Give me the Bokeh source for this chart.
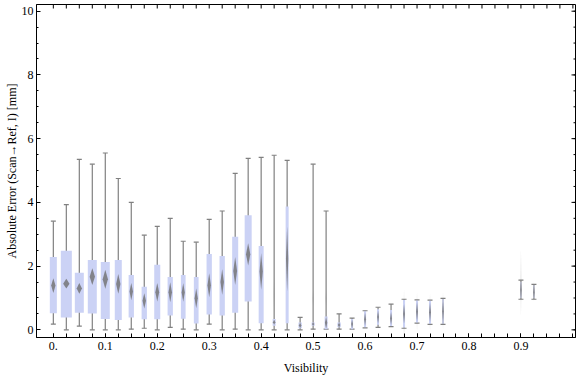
import math
from bokeh.plotting import figure
from bokeh.models import Range1d, FixedTicker
from bokeh.embed import file_html
from bokeh.resources import INLINE

# ---- data ----
vis = [0.0, 0.025, 0.05, 0.075, 0.1, 0.125, 0.15, 0.175, 0.2, 0.225, 0.25, 0.275,
       0.3, 0.325, 0.35, 0.375, 0.4, 0.425, 0.45, 0.475, 0.5, 0.525, 0.55, 0.575,
       0.6, 0.625, 0.65, 0.675, 0.7, 0.725, 0.75, 0.9, 0.925]
whisker_lo = [0.18, 0.00, 0.12, 0.00, 0.00, 0.00, 0.02, 0.05, 0.00, 0.08, 0.02, 0.00,
              0.18, 0.00, 0.02, 0.00, 0.00, 0.00, 0.00, 0.00, 0.02, 0.02, 0.02, 0.02,
              0.06, 0.08, 0.10, 0.05, 0.21, 0.17, 0.17, 0.96, 0.96]
q1 = [0.52, 0.39, 0.54, 0.51, 0.34, 0.31, 0.39, 0.33, 0.33, 0.45, 0.35, 0.20,
      0.48, 0.45, 0.54, 0.89, 0.21, 0.13, 0.21, 0.05, 0.13, 0.02, 0.08, 0.02,
      0.08, 0.16, 0.12, 0.07, 0.23, 0.19, 0.19, 1.00, 1.00]
q3 = [2.29, 2.48, 1.79, 2.19, 2.13, 2.19, 1.72, 1.35, 2.04, 1.66, 1.72, 1.66,
      2.38, 2.32, 2.92, 3.60, 2.63, 0.34, 3.87, 0.23, 0.23, 0.42, 0.23, 0.34,
      0.58, 0.65, 0.62, 0.94, 0.92, 0.91, 0.97, 1.50, 1.40]
whisker_hi = [3.41, 3.93, 5.35, 5.20, 5.55, 4.75, 4.00, 2.97, 3.25, 3.50, 2.78, 2.75,
              3.47, 3.73, 4.91, 5.38, 5.41, 5.48, 5.32, 0.39, 5.20, 3.73, 0.50, 0.37,
              0.60, 0.71, 0.81, 0.96, 0.94, 0.93, 0.99, 1.56, 1.43]
box_w = [0.0135, 0.0212, 0.0173, 0.0173, 0.0173, 0.0135, 0.0102, 0.0102, 0.0116, 0.0102,
         0.0091, 0.0091, 0.0102, 0.0102, 0.0116, 0.0135, 0.0096, 0.0058, 0.0058, 0.0064,
         0.0058, 0.0058, 0.0064, 0.0039, 0.0039, 0.0039, 0.0039, 0.0039, 0.0039, 0.0039,
         0.0025, 0.0015, 0.0015]
diamond_mid = [1.39, 1.45, 1.30, 1.67, 1.59, 1.44, 1.20, 0.91, 1.18, 1.18, 1.17, 0.99,
               1.40, 1.50, 1.85, 2.37, 1.83, 0.24, 2.22, 0.14, 0.18, 0.22, 0.15, 0.18,
               0.33, 0.40, 0.36, 0.50, 0.57, 0.55, 0.58, 1.25, 1.18]
diamond_hh = [0.23, 0.15, 0.17, 0.26, 0.30, 0.31, 0.27, 0.24, 0.29, 0.31, 0.29, 0.31,
              0.38, 0.40, 0.44, 0.35, 0.57, 0.08, 1.02, 0.08, 0.05, 0.18, 0.07, 0.14,
              0.20, 0.20, 0.20, 0.30, 0.30, 0.30, 0.30, 0.25, 0.20]
# faint (wide confidence) diamonds drawn outside the boxes
faint_x = [0.425, 0.5, 0.525, 0.675, 0.7, 0.725, 0.75, 0.9, 0.925]
faint_mid = [1.10, 0.99, 0.99, 0.39, 0.57, 0.55, 0.60, 1.47, 1.20]
faint_hh = [0.58, 0.27, 0.27, 0.90, 0.62, 0.60, 0.60, 1.05, 0.30]

x_ticks = [0.0, 0.1, 0.2, 0.3, 0.4, 0.5, 0.6, 0.7, 0.8, 0.9]
x_minor = [i * 0.025 for i in range(41)]
y_ticks = [0, 2, 4, 6, 8, 10]
y_minor = [i * 0.5 for i in range(21)]

X0, X1 = -0.0324, 1.005
Y0, Y1 = -0.24, 10.21

FONT = "Liberation Serif"
BOX = "#cbd2f5"
WHISK = "#808080"

p = figure(width=576, height=377, output_backend="svg", toolbar_location=None,
           x_range=Range1d(X0, X1), y_range=Range1d(Y0, Y1),
           min_border_left=36, min_border_right=1, min_border_top=4, min_border_bottom=39,
           background_fill_color="white", border_fill_color="white")
p.outline_line_color = "black"
p.outline_line_width = 1
p.xgrid.visible = False
p.ygrid.visible = False

# faint diamonds (behind)
fxs = [[x - 0.0012, x, x + 0.0012, x] for x in faint_x]
fys = [[m, m + h, m, m - h] for m, h in zip(faint_mid, faint_hh)]
p.patches(fxs, fys, fill_color="#cfcfcf", fill_alpha=0.55, line_color=None)

# whiskers + caps
p.segment(x0=vis, y0=whisker_lo, x1=vis, y1=whisker_hi, line_color=WHISK, line_width=1.2)
p.scatter(x=vis + vis, y=whisker_hi + whisker_lo, marker="dash", size=5,
          line_color=WHISK, line_width=1.2)

# boxes
p.vbar(x=vis, width=box_w, bottom=q1, top=q3, fill_color=BOX, line_color=None)

# diamonds
dxs = [[x - 0.25 * w - 0.0008, x, x + 0.25 * w + 0.0008, x] for x, w in zip(vis, box_w)]
dys = [[m, m + h, m, m - h] for m, h in zip(diamond_mid, diamond_hh)]
p.patches(dxs, dys, fill_color="#6f6f6f", fill_alpha=0.8, line_color=None)

# frame ticks on top and right (inward, no labels)
p.ray(x=x_minor, y=[Y1] * len(x_minor), length=4, angle=-math.pi / 2,
      length_units="screen", line_color="black", line_width=1)
p.ray(x=[X1] * len(y_minor), y=y_minor, length=2, angle=math.pi,
      length_units="screen", line_color="black", line_width=1)
p.ray(x=[X1] * len(y_ticks), y=y_ticks, length=4, angle=math.pi,
      length_units="screen", line_color="black", line_width=1)

def style_axis(ax, ticks, minor, major_in, minor_in):
    ax.ticker = FixedTicker(ticks=ticks, minor_ticks=minor)
    ax.axis_line_color = "black"
    ax.axis_line_width = 1
    ax.major_tick_line_color = "black"
    ax.minor_tick_line_color = "black"
    ax.major_tick_in = major_in
    ax.major_tick_out = 0
    ax.minor_tick_in = minor_in
    ax.minor_tick_out = 0
    ax.major_label_text_font = FONT
    ax.major_label_text_font_size = "12px"
    ax.major_label_text_color = "black"
    ax.axis_label_text_font = FONT
    ax.axis_label_text_font_size = "12px"
    ax.axis_label_text_font_style = "normal"
    ax.axis_label_text_color = "black"

style_axis(p.xaxis[0], x_ticks, x_minor, 4, 4)
p.xaxis[0].axis_label = "Visibility"
p.xaxis[0].major_label_overrides = {0: "0."}
p.xaxis[0].major_label_standoff = 4
p.xaxis[0].axis_label_standoff = 8

style_axis(p.yaxis[0], y_ticks, y_minor, 4, 2)
p.yaxis[0].axis_label = "Absolute Error (Scan\u2192Ref, I) [mm]"
p.yaxis[0].major_label_standoff = 3
p.yaxis[0].axis_label_standoff = 0

open("out.html", "w").write(file_html(p, INLINE))
